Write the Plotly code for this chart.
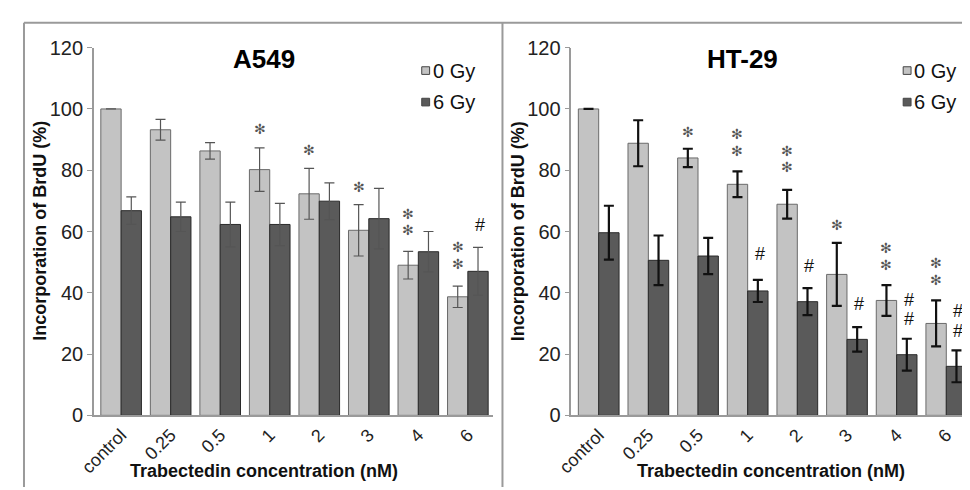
import plotly.graph_objects as go

W, H = 970, 490
OFF = 8  # page body margin seen in the screenshot


def px(x):
    return (x - OFF) / W


def py(y):
    return (H - (y - OFF)) / H


categories = ["control", "0.25", "0.5", "1", "2", "3", "4", "6"]
series_names = ["0 Gy", "6 Gy"]

# A549
a549_0gy = [100, 93.2, 86.3, 80.2, 72.3, 60.4, 49.0, 38.7]
a549_0gy_err = [None, 3.4, 2.7, 7.1, 8.3, 8.4, 4.5, 3.5]
a549_6gy = [66.8, 64.8, 62.3, 62.3, 69.9, 64.2, 53.4, 47.0]
a549_6gy_err = [4.5, 4.8, 7.3, 6.9, 6.0, 9.9, 6.6, 7.8]

# HT-29
ht29_0gy = [100, 88.8, 84.0, 75.4, 68.9, 46.0, 37.5, 30.0]
ht29_0gy_err = [None, 7.5, 3.0, 4.2, 4.7, 10.3, 5.0, 7.5]
ht29_6gy = [59.6, 50.6, 52.0, 40.6, 37.1, 24.8, 19.8, 16.0]
ht29_6gy_err = [8.8, 8.1, 5.9, 3.6, 4.4, 4.0, 5.2, 5.2]

# significance marks: (category index, series 0/1, y value, symbol)
a549_marks = [
    (3, 0, 93.5, "*"), (4, 0, 86.6, "*"), (5, 0, 74.5, "*"),
    (6, 0, 65.8, "*"), (6, 0, 60.4, "*"),
    (7, 0, 54.9, "*"), (7, 0, 49.5, "*"), (7, 1, 62.2, "#"),
]
ht29_marks = [
    (2, 0, 92.5, "*"), (3, 0, 91.8, "*"), (3, 0, 86.3, "*"), (3, 1, 52.6, "#"),
    (4, 0, 86.4, "*"), (4, 0, 80.9, "*"), (4, 1, 48.9, "#"),
    (5, 0, 62.2, "*"), (5, 1, 36.4, "#"),
    (6, 0, 54.6, "*"), (6, 0, 49.2, "*"), (6, 1, 37.8, "#"), (6, 1, 31.6, "#"),
    (7, 0, 49.8, "*"), (7, 0, 44.3, "*"), (7, 1, 34.2, "#"), (7, 1, 27.4, "#"),
]

panel_titles = ["A549", "HT-29"]
y_title = "Incorporation of BrdU (%)"
x_title = "Trabectedin concentration (nM)"

LIGHT = "#c3c3c3"
DARK = "#5a5a5a"
FONT = "Liberation Sans, Arial, sans-serif"

fig = go.Figure()

panels = [
    dict(d0=a549_0gy, e0=a549_0gy_err, d1=a549_6gy, e1=a549_6gy_err,
         ecol="#555555", eth=1.2, xa="x", ya="y", marks=a549_marks),
    dict(d0=ht29_0gy, e0=ht29_0gy_err, d1=ht29_6gy, e1=ht29_6gy_err,
         ecol="#111111", eth=2.2, xa="x2", ya="y2", marks=ht29_marks),
]

for p in panels:
    fig.add_trace(go.Bar(
        x=categories, y=p["d0"], name=series_names[0], xaxis=p["xa"], yaxis=p["ya"],
        marker=dict(color=LIGHT, line=dict(color="#6a6a6a", width=1)),
        error_y=dict(type="data", array=p["e0"], color=p["ecol"], thickness=p["eth"], width=5),
        showlegend=False,
    ))
    fig.add_trace(go.Bar(
        x=categories, y=p["d1"], name=series_names[1], xaxis=p["xa"], yaxis=p["ya"],
        marker=dict(color=DARK, line=dict(color="#2a2a2a", width=1)),
        error_y=dict(type="data", array=p["e1"], color=p["ecol"], thickness=p["eth"], width=5),
        showlegend=False,
    ))

x_domains = [[px(80), px(485)], [px(565), min(1.0, px(970))]]
y_domain = [py(423), py(38)]

axis_common_x = dict(
    type="category", range=[-0.55, 7.5], showline=True, linecolor="#9a9a9a", linewidth=2,
    ticks="", tickangle=-45, tickfont=dict(family=FONT, size=18, color="#222"),
    showgrid=False, zeroline=False, fixedrange=True,
)
axis_common_y = dict(
    range=[0, 120], tickvals=[0, 20, 40, 60, 80, 100, 120], showline=True,
    linecolor="#9a9a9a", linewidth=1.5, ticks="outside", ticklen=5, tickcolor="#9a9a9a",
    tickfont=dict(family=FONT, size=20, color="#222"), showgrid=False, zeroline=False,
    domain=y_domain,
)
fig.update_layout(
    xaxis=dict(axis_common_x, domain=x_domains[0], anchor="y"),
    yaxis=dict(axis_common_y, anchor="x"),
    xaxis2=dict(axis_common_x, domain=x_domains[1], anchor="y2", range=[-0.55, 7.48]),
    yaxis2=dict(axis_common_y, anchor="x2"),
)

annotations = []
shapes = []
title_cx = [253, 739]
ytitle_cx = [25, 511]
xtitle_cx = [253, 768]
legend_sq_x = [413, 902]
legend_y = [62, 95]
legend_cols = [LIGHT, DARK]

for i, p in enumerate(panels):
    annotations.append(dict(
        text=f"<b>{panel_titles[i]}</b>", x=px(title_cx[i]), y=py(50),
        xref="paper", yref="paper", showarrow=False, xanchor="center", yanchor="middle",
        font=dict(family=FONT, size=26, color="#000"),
    ))
    annotations.append(dict(
        text=f"<b>{y_title}</b>", x=px(ytitle_cx[i]), y=py(230), textangle=-90,
        xref="paper", yref="paper", showarrow=False, xanchor="center", yanchor="middle",
        font=dict(family=FONT, size=18, color="#111"),
    ))
    annotations.append(dict(
        text=f"<b>{x_title}</b>", x=px(xtitle_cx[i]), y=py(481),
        xref="paper", yref="paper", showarrow=False, xanchor="center", yanchor="middle",
        font=dict(family=FONT, size=18, color="#111"),
    ))
    for k in range(2):
        cy = legend_y[k]
        shapes.append(dict(
            type="rect", xref="paper", yref="paper",
            x0=px(legend_sq_x[i]), x1=px(legend_sq_x[i] + 8),
            y0=py(cy + 4), y1=py(cy - 4),
            fillcolor=legend_cols[k], line=dict(color="#444", width=1),
        ))
        annotations.append(dict(
            text=series_names[k], x=px(legend_sq_x[i] + 9), y=py(cy),
            xref="paper", yref="paper", showarrow=False, xanchor="left", yanchor="middle",
            font=dict(family=FONT, size=20, color="#111"),
        ))
    xref = "x" if i == 0 else "x2"
    yref = "y" if i == 0 else "y2"
    for (ci, s, yv, sym) in p["marks"]:
        xoff = -0.205 if s == 0 else 0.205
        if sym == "*":
            annotations.append(dict(
                text="✻", x=ci + xoff, y=yv, xref=xref, yref=yref, showarrow=False,
                xanchor="center", yanchor="middle",
                font=dict(family="DejaVu Sans", size=14, color="#555"),
            ))
        else:
            annotations.append(dict(
                text="#", x=ci + xoff + 0.04, y=yv, xref=xref, yref=yref, showarrow=False,
                xanchor="center", yanchor="middle",
                font=dict(family=FONT, size=18, color="#111"),
            ))

# frame lines
frame_col = "#9a9a9a"
shapes.append(dict(type="line", xref="paper", yref="paper", x0=px(8) + 1 / W, x1=1, y0=py(12),
                   y1=py(12), line=dict(color=frame_col, width=2)))
shapes.append(dict(type="line", xref="paper", yref="paper", x0=px(8) + 1 / W, x1=px(8) + 1 / W, y0=0,
                   y1=py(12), line=dict(color=frame_col, width=2)))
shapes.append(dict(type="line", xref="paper", yref="paper", x0=px(495), x1=px(495), y0=0,
                   y1=py(12), line=dict(color=frame_col, width=2)))

fig.update_layout(
    width=W, height=H, margin=dict(l=0, r=0, t=0, b=0),
    paper_bgcolor="white", plot_bgcolor="white",
    barmode="group", bargap=0.18, bargroupgap=0,
    annotations=annotations, shapes=shapes, showlegend=False,
)

fig.write_html("out.html")
